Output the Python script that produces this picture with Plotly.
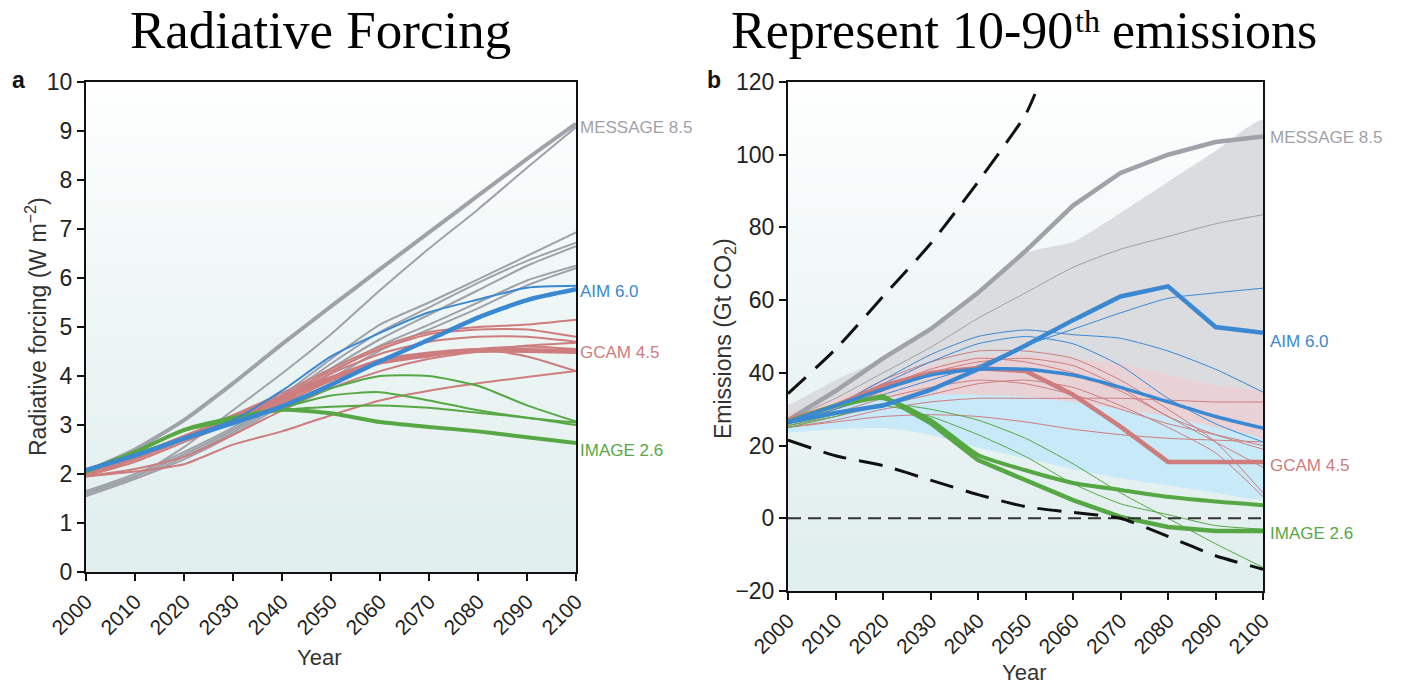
import plotly.graph_objects as go

W, H = 1412, 686
years = [2000, 2010, 2020, 2030, 2040, 2050, 2060, 2070, 2080, 2090, 2100]

# ---------------- Panel a: radiative forcing (W m-2) ----------------
rf_message_thick = [2.05, 2.5, 3.1, 3.85, 4.65, 5.42, 6.18, 6.93, 7.68, 8.43, 9.15]
rf_message_thin = [1.65, 1.95, 2.55, 3.3, 4.05, 4.85, 5.75, 6.6, 7.4, 8.25, 9.08]
rf_gray_others = [
    [1.65, 2.0, 2.45, 2.95, 3.6, 4.35, 5.05, 5.5, 5.97, 6.45, 6.93],
    [1.6, 1.95, 2.4, 2.9, 3.55, 4.25, 4.9, 5.4, 5.9, 6.35, 6.72],
    [1.6, 1.95, 2.4, 2.9, 3.5, 4.15, 4.75, 5.25, 5.75, 6.25, 6.65],
    [1.55, 1.9, 2.35, 2.85, 3.45, 4.05, 4.62, 5.05, 5.5, 5.95, 6.25],
    [1.55, 1.9, 2.3, 2.8, 3.4, 3.95, 4.52, 4.95, 5.38, 5.85, 6.2],
]
rf_aim_thick = [2.08, 2.38, 2.72, 3.04, 3.38, 3.82, 4.3, 4.74, 5.19, 5.55, 5.77]
rf_aim_thin = [2.08, 2.4, 2.75, 3.1, 3.7, 4.4, 4.88, 5.3, 5.56, 5.8, 5.84]
rf_gcam_thick = [1.98, 2.35, 2.75, 3.15, 3.55, 3.95, 4.3, 4.45, 4.52, 4.52, 4.5]
rf_gcam_others = [
    [2.0, 2.35, 2.75, 3.2, 3.65, 4.15, 4.6, 4.9, 5.0, 5.05, 5.15],
    [2.0, 2.35, 2.75, 3.2, 3.6, 4.1, 4.55, 4.85, 4.95, 4.95, 4.8],
    [1.98, 2.3, 2.7, 3.15, 3.55, 4.05, 4.45, 4.7, 4.8, 4.8, 4.7],
    [1.98, 2.3, 2.7, 3.1, 3.5, 3.95, 4.25, 4.4, 4.55, 4.6, 4.55],
    [1.96, 2.25, 2.65, 3.05, 3.45, 3.9, 4.3, 4.45, 4.55, 4.4, 4.1],
    [1.95, 2.1, 2.35, 2.8, 3.3, 3.75, 4.1, 4.35, 4.5, 4.62, 4.68],
    [1.95, 2.05, 2.2, 2.6, 2.87, 3.2, 3.5, 3.7, 3.85, 3.98, 4.1],
]
rf_image_thick = [2.05, 2.45, 2.9, 3.15, 3.31, 3.24, 3.06, 2.96, 2.87, 2.75, 2.63]
rf_image_others = [
    [2.05, 2.45, 2.9, 3.1, 3.35, 3.75, 4.0, 4.0, 3.8, 3.4, 3.07],
    [2.05, 2.45, 2.88, 3.1, 3.35, 3.6, 3.67, 3.5, 3.3, 3.15, 3.05],
    [2.05, 2.45, 2.88, 3.1, 3.3, 3.37, 3.4, 3.35, 3.25, 3.15, 3.0],
]

# ---------------- Panel b: emissions (Gt CO2) ----------------
em_message_thick = [27, 35, 44, 52, 62, 73.5, 86, 95, 100, 103.5, 105]
em_message_thin = [27, 33, 40, 47, 55, 62, 69, 74, 77.5, 81, 83.5]
em_gray_band_upper = [31, 38, 44, 52, 62, 73, 76, 84, 92.5, 101, 109.5]
em_gray_band_lower = [26, 28, 30, 32, 33, 34, 34.5, 35, 35, 35, 35]
em_pink_band_upper = [29, 33, 38, 42, 44.5, 45, 44, 42.5, 39.5, 36.5, 34.5]
em_pink_band_lower = [25, 27, 29, 31, 31, 30, 29, 27, 25, 23, 21]
em_blue_band_upper = [26.2, 30, 33, 34, 34, 33.5, 32, 30, 28, 25, 21.5]
em_blue_band_lower = [23.5, 24.5, 24.8, 23, 19.5, 16.5, 13.5, 11, 9, 7, 5.5]

em_aim_thick_a = [26.5, 29, 31, 35.3, 41, 47.5, 54.5, 61, 63.8, 52.6, 51]
em_aim_thick_b = [26.5, 31, 35.5, 39.4, 41, 41, 39.4, 36, 32, 28, 24.8]
em_aim_others = [
    [26, 30, 34, 38, 42, 47.5, 52, 56.5, 60.5, 62, 63.3],
    [26, 31, 38, 45, 50, 51.8, 50.5, 49.5, 46, 41, 34.7],
    [26, 31, 37, 43, 48, 50, 48, 42, 33, 26, 21],
]
em_gcam_thick = [27, 31, 36.5, 40, 41.3, 40.5, 34, 25.2, 15.5, 15.5, 15.5]
em_gcam_others = [
    [26, 31, 38, 43, 46, 46, 44, 38, 30, 21, 7],
    [26, 30, 36, 41, 44, 43, 40, 35, 28, 21, 14],
    [25, 27, 30, 32, 33, 33, 33, 33, 32.5, 32, 32],
    [26, 29, 33, 36, 38, 37, 34, 30, 26, 23, 20],
    [25, 26.5, 28, 28.5, 28, 26.5, 24.5, 23, 22, 21.5, 21],
    [25.5, 28, 31, 34, 37, 38, 36, 31, 25, 18, 6],
    [26, 30, 35, 40, 43, 44, 42, 36, 28, 23, 19],
]
em_image_thick_a = [26.5, 31, 33.6, 26.2, 16, 10.5, 5, 0.4, -2.4, -3.5, -3.5]
em_image_thick_b = [26.5, 31, 33, 27, 17.4, 13.2, 9.7, 7.8, 5.9, 4.6, 3.6]
em_image_others = [
    [25, 28, 31.5, 30, 27, 22, 15, 7, 0, -7, -13.5],
    [25.5, 28.5, 31, 28, 23, 17, 9.5, 4, 1, -2, -3],
]
em_upper_bound_years = [2000, 2010, 2020, 2030, 2040, 2050, 2052]
em_upper_bound = [34.3, 46.5, 61, 75.5, 92.5, 111, 116.7]
em_lower_bound = [21.5, 17.2, 14.5, 10.5, 6.5, 3.2, 1.6, 0, -5, -10.3, -14]
zero_line = [0, 0]
zero_years = [2000, 2100]

# ---------------- style ----------------
GRAY = "#a0a2a9"
BLUE = "#3b88d2"
RED = "#cd7d7d"
GREEN = "#57a845"
SANS = "Liberation Sans, Arial, sans-serif"
SERIF = "Liberation Serif, Times New Roman, serif"

fig = go.Figure()


def line(x, y, color, width, axis, dash=None, smooth=True):
    xa, ya = axis
    ln = dict(color=color, width=width, dash=dash)
    if smooth:
        ln.update(shape="spline", smoothing=0.6)
    fig.add_trace(go.Scatter(
        x=x, y=y, mode="lines", xaxis=xa, yaxis=ya, line=ln,
        hoverinfo="skip", showlegend=False))


def band(x, upper, lower, color, axis):
    xa, ya = axis
    fig.add_trace(go.Scatter(
        x=list(x) + list(x)[::-1], y=list(upper) + list(lower)[::-1],
        mode="lines", fill="toself", fillcolor=color,
        line=dict(width=0, shape="spline", smoothing=0.5),
        xaxis=xa, yaxis=ya, hoverinfo="skip", showlegend=False))


A = ("x", "y")
B = ("x2", "y2")

# Panel a
for s in rf_gray_others:
    line(years, s, GRAY, 2, A)
line(years, rf_message_thin, GRAY, 2, A)
line(years, rf_message_thick, GRAY, 4, A)
for s in rf_gcam_others:
    line(years, s, RED, 2, A)
line(years, rf_gcam_thick, RED, 5, A)
for s in rf_image_others:
    line(years, s, GREEN, 2, A)
line(years, rf_image_thick, GREEN, 4, A)
line(years, rf_aim_thin, BLUE, 2, A)
line(years, rf_aim_thick, BLUE, 4.5, A)

# Panel b
band(years, em_gray_band_upper, em_gray_band_lower, "rgb(219,220,223)", B)
band(years, em_pink_band_upper, em_pink_band_lower, "rgb(233,210,214)", B)
band(years, em_blue_band_upper, em_blue_band_lower, "rgb(199,233,248)", B)
line(years, em_message_thin, "#9fa1a8", 1, B)
for s in em_gcam_others:
    line(years, s, RED, 1, B)
for s in em_aim_others:
    line(years, s, BLUE, 1, B)
for s in em_image_others:
    line(years, s, GREEN, 1, B)
line(years, em_message_thick, GRAY, 4.5, B, smooth=False)
line(years, em_gcam_thick, RED, 4.5, B, smooth=False)
line(years, em_image_thick_b, GREEN, 4, B)
line(years, em_image_thick_a, GREEN, 4.5, B, smooth=False)
line(years, em_aim_thick_b, BLUE, 3.5, B)
line(years, em_aim_thick_a, BLUE, 4.5, B, smooth=False)
line(zero_years, zero_line, "#333333", 2, B, dash="13px,7px", smooth=False)
line(em_upper_bound_years, em_upper_bound, "#111111", 3, B, dash="24px,13px")
line(years, em_lower_bound, "#111111", 3, B, dash="24px,13px")

# ---------------- layout ----------------
xa_dom = [86 / W, 576 / W]
xb_dom = [788 / W, 1263 / W]
ya_dom = [(H - 572) / H, (H - 82) / H]
yb_dom = [(H - 591) / H, (H - 82) / H]

axis_common = dict(
    showline=True, linecolor="#111", linewidth=2, mirror=True,
    ticks="outside", ticklen=7, tickwidth=2, tickcolor="#111",
    showgrid=False, zeroline=False, automargin=False,
)
xtick_font = dict(family=SANS, size=21, color="#222")
ytick_font = dict(family=SANS, size=23, color="#222")

fig.update_layout(
    width=W, height=H,
    margin=dict(l=0, r=0, t=0, b=0, autoexpand=False),
    paper_bgcolor="white", plot_bgcolor="white",
    xaxis=dict(domain=xa_dom, anchor="y", range=[2000, 2100], tickvals=years,
               tickangle=-45, tickfont=xtick_font, **axis_common),
    yaxis=dict(domain=ya_dom, anchor="x", range=[0, 10], dtick=1,
               tickfont=ytick_font, **axis_common),
    xaxis2=dict(domain=xb_dom, anchor="y2", range=[2000, 2100], tickvals=years,
                tickangle=-45, tickfont=xtick_font, **axis_common),
    yaxis2=dict(domain=yb_dom, anchor="x2", range=[-20, 120], dtick=20,
                tickfont=ytick_font, **axis_common),
)

# gradient background via stacked shapes
N = 60
top = (255, 255, 255)
bot = (225, 239, 238)
shapes = []
for xr, yr in (("x domain", "y domain"), ("x2 domain", "y2 domain")):
    for i in range(N):
        t = i / (N - 1)
        f = min(1.0, t * 1.08) ** 0.85
        c = tuple(round(top[k] + (bot[k] - top[k]) * f) for k in range(3))
        shapes.append(dict(type="rect", xref=xr, yref=yr, x0=0, x1=1,
                           y0=1 - (i + 1) / N, y1=1 - i / N + 0.002,
                           fillcolor="rgb(%d,%d,%d)" % c, line=dict(width=0), layer="below"))
fig.update_layout(shapes=shapes)

ann = []
# titles
ann.append(dict(text="Radiative Forcing", x=320 / W, y=1 - 30 / H, xref="paper", yref="paper",
                showarrow=False, font=dict(family=SERIF, size=53, color="black"),
                xanchor="center", yanchor="middle"))
# right title split so the superscript sits like the reference
T_SIZE, SUP_SIZE = 52, 32
part1, sup_txt, part2 = "Represent 10-90", "th", "emissions"
w1 = 6.582 * T_SIZE
wsup = 0.778 * SUP_SIZE
wsp = 0.25 * T_SIZE
w2 = 3.945 * T_SIZE
x_start = 1023 - (w1 + wsup + wsp + w2) / 2
ann.append(dict(text=part1, x=x_start / W, y=1 - 30 / H, xref="paper", yref="paper",
                showarrow=False, font=dict(family=SERIF, size=T_SIZE, color="black"),
                xanchor="left", yanchor="middle", borderpad=0))
ann.append(dict(text=sup_txt, x=(x_start + w1 + 1) / W, y=1 - 21 / H, xref="paper", yref="paper",
                showarrow=False, font=dict(family=SERIF, size=SUP_SIZE, color="black"),
                xanchor="left", yanchor="middle", borderpad=0))
ann.append(dict(text=part2, x=(x_start + w1 + wsup + wsp) / W, y=1 - 30 / H, xref="paper",
                yref="paper", showarrow=False, font=dict(family=SERIF, size=T_SIZE, color="black"),
                xanchor="left", yanchor="middle", borderpad=0))
# panel letters
ann.append(dict(text="<b>a</b>", x=18 / W, y=1 - 80 / H, xref="paper", yref="paper", showarrow=False,
                font=dict(family=SANS, size=23, color="#111"), xanchor="center", yanchor="middle"))
ann.append(dict(text="<b>b</b>", x=714 / W, y=1 - 80 / H, xref="paper", yref="paper", showarrow=False,
                font=dict(family=SANS, size=23, color="#111"), xanchor="center", yanchor="middle"))
# axis titles
ann.append(dict(text="Year", x=319 / W, y=1 - 657 / H, xref="paper", yref="paper", showarrow=False,
                font=dict(family=SANS, size=22, color="#333"), xanchor="center", yanchor="middle"))
ann.append(dict(text="Year", x=1024 / W, y=1 - 672 / H, xref="paper", yref="paper", showarrow=False,
                font=dict(family=SANS, size=22, color="#333"), xanchor="center", yanchor="middle"))
ann.append(dict(text="Radiative forcing (W m<sup>\u22122</sup>)", x=36 / W, y=1 - 327 / H,
                xref="paper", yref="paper", showarrow=False, textangle=-90,
                font=dict(family=SANS, size=23, color="#333"), xanchor="center", yanchor="middle"))
ann.append(dict(text="Emissions (Gt CO<sub>2</sub>)", x=724 / W, y=1 - 338 / H,
                xref="paper", yref="paper", showarrow=False, textangle=-90,
                font=dict(family=SANS, size=23, color="#333"), xanchor="center", yanchor="middle"))

# series labels
labels_a = [("MESSAGE 8.5", 9.08, GRAY), ("AIM 6.0", 5.73, BLUE),
            ("GCAM 4.5", 4.47, RED), ("IMAGE 2.6", 2.47, GREEN)]
labels_b = [("MESSAGE 8.5", 104.6, GRAY), ("AIM 6.0", 48.5, BLUE),
            ("GCAM 4.5", 14.4, RED), ("IMAGE 2.6", -4.3, GREEN)]
for txt, yv, col in labels_a:
    ann.append(dict(text=txt, x=578 / W, y=yv, xref="paper", yref="y", showarrow=False,
                    font=dict(family=SANS, size=17, color=col), xanchor="left", yanchor="middle"))
for txt, yv, col in labels_b:
    ann.append(dict(text=txt, x=1268 / W, y=yv, xref="paper", yref="y2", showarrow=False,
                    font=dict(family=SANS, size=17, color=col), xanchor="left", yanchor="middle"))
fig.update_layout(annotations=ann)

fig.write_html("out.html")
